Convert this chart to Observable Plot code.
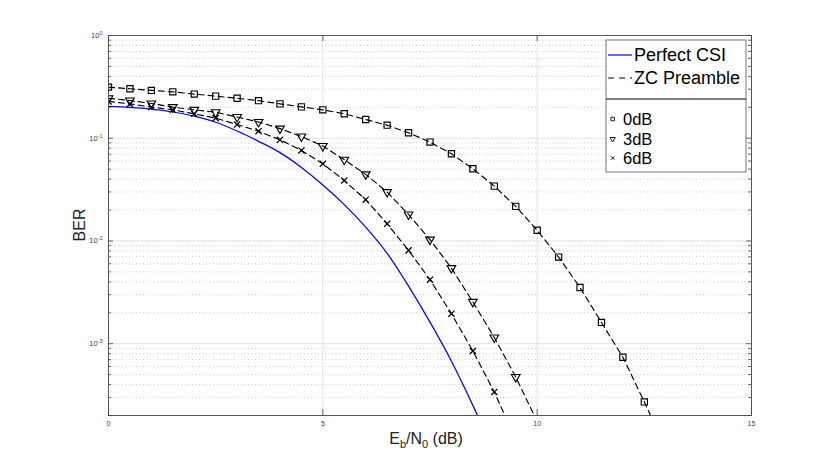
<!DOCTYPE html>
<html><head><meta charset="utf-8">
<script src="https://cdn.jsdelivr.net/npm/d3@7"></script>
<script src="https://cdn.jsdelivr.net/npm/@observablehq/plot@0.6"></script>
<style>body{margin:0;background:#fff;} #chart{width:830px;height:467px;}</style>
</head><body><div id="chart"></div>
<script>
// Perfect CSI (blue solid)
const snrCSI = [0,0.5,1,1.5,2,2.5,3,3.5,4,4.5,5,5.5,6,6.5,7,7.5,8,8.5,9];
const berCSI = [0.204,0.1995,0.192,0.180,0.164,0.143,0.1175,0.0933,0.0724,0.0519,0.0351,0.0226,0.01365,0.00759,0.00363,0.00162,0.000676,0.000251,0.000085];
// ZC preamble, 0 dB (squares)
const snr0dB = [0,0.5,1,1.5,2,2.5,3,3.5,4,4.5,5,5.5,6,6.5,7,7.5,8,8.5,9,9.5,10,10.5,11,11.5,12,12.5,13];
const ber0dB = [0.314,0.303,0.292,0.283,0.269,0.257,0.245,0.232,0.216,0.202,0.189,0.173,0.152,0.134,0.113,0.0917,0.0706,0.0505,0.0342,0.0217,0.0127,0.00697,0.00352,0.00161,0.000738,0.000271,0.000095];
// ZC preamble, 3 dB (down triangles)
const snr3dB = [0,0.5,1,1.5,2,2.5,3,3.5,4,4.5,5,5.5,6,6.5,7,7.5,8,8.5,9,9.5,10];
const ber3dB = [0.245,0.233,0.218,0.201,0.189,0.179,0.161,0.144,0.124,0.104,0.084,0.0618,0.0445,0.0299,0.0181,0.0103,0.00544,0.00255,0.00115,0.000474,0.000175];
// ZC preamble, 6 dB (crosses)
const snr6dB = [0,0.5,1,1.5,2,2.5,3,3.5,4,4.5,5,5.5,6,6.5,7,7.5,8,8.5,9,9.5];
const ber6dB = [0.228,0.216,0.201,0.189,0.173,0.157,0.136,0.117,0.0966,0.076,0.0564,0.0388,0.0252,0.0147,0.0081,0.0042,0.00196,0.000849,0.000339,0.000117];

const xTicks = [0,5,10,15];
const yDecades = [1e-3,1e-2,1e-1,1];
const yMinor = [];
[1e-4,1e-3,1e-2,1e-1].forEach(d => { for (let k = 2; k <= 9; k++) { const v = +(d*k).toPrecision(3); if (v >= 2e-4) yMinor.push(v); } });

const W = 830, H = 467, mL = 108, mR = 79, mT = 35, mB = 52;
const pw = W - mL - mR, ph = H - mT - mB;
const rows = (xs, ys) => xs.map((x, i) => ({x, y: ys[i]}));
const csiRows = rows(snrCSI, berCSI), rows0 = rows(snr0dB, ber0dB), rows3 = rows(snr3dB, ber3dB), rows6 = rows(snr6dB, ber6dB);

const tickStyle = {stroke: "#444", strokeWidth: 0.8};
const dash = "6,4";

const svg = Plot.plot({
  width: W, height: H,
  marginLeft: mL, marginRight: mR, marginTop: mT, marginBottom: mB,
  style: {background: "#fff", fontFamily: "'Liberation Sans', Arial, Helvetica, sans-serif"},
  x: {domain: [0, 15]},
  y: {type: "log", domain: [2e-4, 1]},
  marks: [
    Plot.gridY(yMinor, {stroke: "#bdbdbd", strokeOpacity: 1, strokeWidth: 0.8, strokeDasharray: "1,2.5"}),
    Plot.gridY(yDecades, {stroke: "#e2e2e2", strokeOpacity: 1, strokeWidth: 1}),
    Plot.gridX([5, 10], {stroke: "#e2e2e2", strokeOpacity: 1, strokeWidth: 1}),
    Plot.line(csiRows, {x: "x", y: "y", stroke: "#0000ff", strokeWidth: 1.25, curve: "monotone-x", clip: true}),
    Plot.line(rows0, {x: "x", y: "y", stroke: "#000", strokeWidth: 1.15, strokeDasharray: dash, clip: true}),
    Plot.line(rows3, {x: "x", y: "y", stroke: "#000", strokeWidth: 1.15, strokeDasharray: dash, clip: true}),
    Plot.line(rows6, {x: "x", y: "y", stroke: "#000", strokeWidth: 1.15, strokeDasharray: dash, clip: true}),
    Plot.dot(rows0, {x: "x", y: "y", symbol: "square", r: 3.5, stroke: "#000", fill: "none", strokeWidth: 1.15, clip: true}),
    Plot.dot(rows3, {x: "x", y: "y", symbol: "triangle", rotate: 180, r: 3.2, stroke: "#000", fill: "none", strokeWidth: 1.15, clip: true}),
    Plot.dot(rows6, {x: "x", y: "y", symbol: "times", r: 2.9, stroke: "#000", fill: "none", strokeWidth: 1.3, clip: true}),
    Plot.frame({stroke: "#555", strokeWidth: 1}),
    // inward ticks (left / right)
    Plot.tickY(yDecades, {y: d => d, insetRight: pw - 5, ...tickStyle}),
    Plot.tickY(yDecades, {y: d => d, insetLeft: pw - 5, ...tickStyle}),
    Plot.tickY(yMinor, {y: d => d, insetRight: pw - 3, ...tickStyle}),
    Plot.tickY(yMinor, {y: d => d, insetLeft: pw - 3, ...tickStyle}),
    // inward ticks (bottom / top)
    Plot.tickX(xTicks, {x: d => d, insetTop: ph - 6, ...tickStyle}),
    Plot.tickX(xTicks, {x: d => d, insetBottom: ph - 6, ...tickStyle}),
    Plot.axisX({ticks: xTicks, tickSize: 0, tickPadding: 6, fontSize: 7, fill: "#444", label: null}),
    Plot.axisY({ticks: yDecades, tickSize: 0, tickPadding: 6, fontSize: 7.5, fill: "#444", label: null,
      tickFormat: d => "10^" + Math.round(Math.log10(d))})
  ]
});
document.getElementById("chart").appendChild(svg);

const s = d3.select(svg);
// superscripts for y tick labels
s.selectAll('[aria-label="y-axis tick label"] text').each(function () {
  const t = this.textContent;
  if (t.includes("^")) {
    const [b, e] = t.split("^");
    const sel = d3.select(this);
    sel.text(b);
    sel.append("tspan").attr("dy", "-0.55em").attr("font-size", "5.5px").text(e);
  }
});

const font = "'Liberation Sans', Arial, Helvetica, sans-serif";
// Axis titles
const xl = s.append("text").attr("x", 426).attr("y", 444).attr("text-anchor", "middle")
  .attr("font-family", font).attr("font-size", 16).attr("fill", "#222");
xl.append("tspan").text("E");
xl.append("tspan").attr("dy", 4).attr("font-size", 11).text("b");
xl.append("tspan").attr("dy", -4).text("/N");
xl.append("tspan").attr("dy", 4).attr("font-size", 11).text("0");
xl.append("tspan").attr("dy", -4).text(" (dB)");

s.append("text").attr("transform", "translate(85,225) rotate(-90)").attr("text-anchor", "middle")
  .attr("font-family", font).attr("font-size", 16).attr("fill", "#222").text("BER");

// Legend
const lg = s.append("g").attr("font-family", font).attr("fill", "#000").attr("text-anchor", "start");
lg.append("rect").attr("x", 606).attr("y", 40).attr("width", 140).attr("height", 132)
  .attr("fill", "#fff").attr("stroke", "#555").attr("stroke-width", 0.8);
lg.append("line").attr("x1", 608).attr("x2", 632).attr("y1", 55).attr("y2", 55).attr("stroke", "#0000ff").attr("stroke-width", 1.2);
lg.append("text").attr("x", 634).attr("y", 55).attr("dy", "0.36em").attr("font-size", 18).text("Perfect CSI");
lg.append("line").attr("x1", 608).attr("x2", 632).attr("y1", 78).attr("y2", 78).attr("stroke", "#000").attr("stroke-width", 1.1).attr("stroke-dasharray", "6,5");
lg.append("text").attr("x", 634).attr("y", 78).attr("dy", "0.36em").attr("font-size", 18).text("ZC Preamble");
lg.append("line").attr("x1", 606).attr("x2", 746).attr("y1", 99).attr("y2", 99).attr("stroke", "#000").attr("stroke-width", 1);
const lgItems = [
  {label: "0dB", y: 119, sym: d3.symbolSquare, size: 12, rot: 0},
  {label: "3dB", y: 139, sym: d3.symbolTriangle, size: 12, rot: 180},
  {label: "6dB", y: 158, sym: d3.symbolTimes, size: 10, rot: 0}
];
lgItems.forEach(it => {
  lg.append("path").attr("d", d3.symbol(it.sym, it.size)())
    .attr("transform", `translate(612.7,${it.y}) rotate(${it.rot})`)
    .attr("fill", "none").attr("stroke", "#000").attr("stroke-width", 0.9);
  lg.append("text").attr("x", 623).attr("y", it.y).attr("dy", "0.36em").attr("font-size", 16.5).text(it.label);
});
</script>
</body></html>
